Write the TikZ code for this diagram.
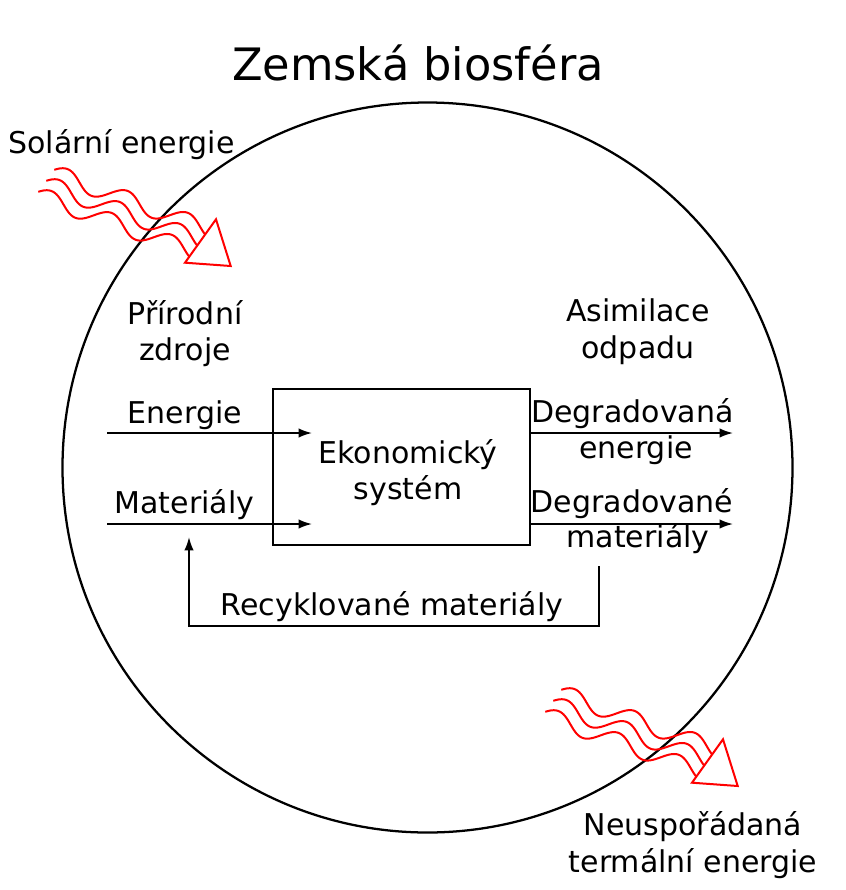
\documentclass[tikz,border=0pt]{standalone}
\usepackage{fontspec}
\setmainfont{DejaVu Sans}
\usetikzlibrary{arrows.meta}
\begin{document}
\begin{tikzpicture}[x=0.75pt,y=-0.75pt,
  lbl/.style={font=\fontsize{22.5}{27}\selectfont, inner sep=0pt, anchor=base},
  ttl/.style={font=\fontsize{33.5}{40}\selectfont, inner sep=0pt, anchor=base},
  flow/.style={line width=1.3pt, -{Latex[length=10pt,width=7pt]}},
  wave/.style={red, line width=1.5pt, line join=round},
  headtri/.style={red, line width=1.5pt},
  sysbox/.style={draw, line width=1.5pt, minimum width=192.75pt, minimum height=117pt, inner sep=0pt},
  sphere/.style={draw, circle, line width=1.7pt, minimum size=547.5pt, inner sep=0pt}
]
\path[fill=white, use as bounding box] (0,0) rectangle (846,890);

% biosphere circle
\node[sphere] (bio) at (427.5,467.5) {};

% title
\node[ttl] (title) at (418,80) {Zemská biosféra};

% economic system box
\node[sysbox] (box) at (401.5,467) {};
\node[lbl] (eko1) at (408,463) {Ekonomický};
\node[lbl] (eko2) at (408,499) {systém};

% labels
\node[lbl, anchor=base west] (sol) at (8,153) {Solární energie};
\node[lbl] (prir1) at (185,324) {Přírodní};
\node[lbl] (prir2) at (185,360) {zdroje};
\node[lbl] (asim1) at (638,321) {Asimilace};
\node[lbl] (asim2) at (638,358) {odpadu};
\node[lbl] (en) at (185,423) {Energie};
\node[lbl] (mat) at (184.5,513) {Materiály};
\node[lbl] (deg1) at (632.5,422) {Degradovaná};
\node[lbl] (deg2) at (636,458) {energie};
\node[lbl] (deg3) at (632,512) {Degradované};
\node[lbl] (deg4) at (638,547) {materiály};
\node[lbl] (rec) at (392,615) {Recyklované materiály};
\node[lbl] (neu1) at (693,835) {Neuspořádaná};
\node[lbl] (neu2) at (693,872) {termální energie};

% flow coordinates
\coordinate (ein) at (107,433);
\coordinate (eend) at (312,433);
\coordinate (min) at (107,524);
\coordinate (mend) at (312,524);
\coordinate (eout) at (733,433);
\coordinate (mout) at (733,524);
\coordinate (rtop) at (599,566);
\coordinate (rend) at (189,537);

\draw[flow] (ein) -- (eend);
\draw[flow] (min) -- (mend);
\draw[flow] (box.east |- eout) -- (eout);
\draw[flow] (box.east |- mout) -- (mout);
\draw[flow] (rtop) -- ++(0,60) -| (rend);

% wavy radiation arrows (solar in, thermal out)
\foreach \gx/\gy in {0/0, 507/520} {
  \begin{scope}[shift={(\gx,\gy)}]
    \foreach \wk in {0,1,2} {
      \draw[wave] plot[variable=\wu, domain=4:168, samples=110]
        ({49.4 - 8*\wk + \wu*0.94 + 8.5*sin(\wu*5.625)*0.342},
         {171.5 + 11*\wk + \wu*0.342 - 8.5*sin(\wu*5.625)*0.94});
    }
    \draw[headtri] (216,219.3) -- (185,262.7) -- (230.7,266) -- cycle;
  \end{scope}
}
\end{tikzpicture}
\end{document}
